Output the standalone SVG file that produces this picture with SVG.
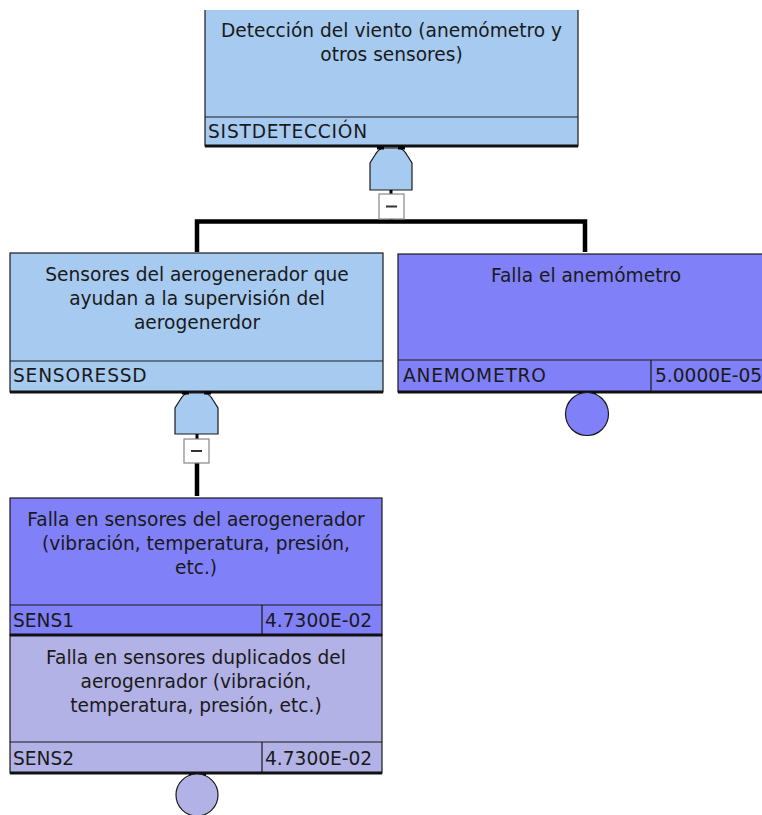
<svg xmlns="http://www.w3.org/2000/svg" width="762" height="815" viewBox="0 0 762 815">
<style>
text{font-family:"DejaVu Sans","Verdana",sans-serif;font-size:18.6px;fill:#1a1a1a}
.k{letter-spacing:0.8px}
.c{text-anchor:middle}
.box{stroke:#1a1a1a;stroke-width:1.2}
.blue{fill:#A6CAF0}
.purple{fill:#8080F8}
.lav{fill:#B2B2E6}
.base{stroke:#111;stroke-width:3;fill:none}
.line{stroke:#1a1a1a;stroke-width:1.2;fill:none}
.wire{stroke:#000;stroke-width:4.5;fill:none}
.mbox{fill:#fff;stroke:#888;stroke-width:1.2}
.minus{stroke:#333;stroke-width:2}
.gate{stroke:#1a1a1a;stroke-width:1.2}
</style>
<rect width="762" height="815" fill="#fff"/>
<g id="connectors">
<line class="wire" x1="391" y1="219" x2="391" y2="222"/>
<path class="wire" d="M197,252 L197,221.5 L585,221.5 L585,252"/>
<line class="wire" x1="197" y1="463" x2="197" y2="496"/>
</g>
<g id="SISTDETECCION">
<path class="box blue" d="M205,10 V146 H578 V10"/>
<line class="line" x1="205" y1="117" x2="578" y2="117"/>
<line class="base" x1="205" y1="146" x2="578" y2="146"/>
<text class="c" x="391.5" y="37">Detección del viento (anemómetro y</text>
<text class="c" x="391.5" y="61">otros sensores)</text>
<text class="k" x="208" y="138">SISTDETECCIÓN</text>
</g>
<g id="gate1">
<path class="gate blue" d="M370,190 V163 L375,155 Q379,148 384,148 H398 Q403,148 407,155 L412,163 V190 Z"/>
<line x1="377" y1="148" x2="384" y2="148" stroke="#000" stroke-width="3"/>
<line x1="398" y1="148" x2="405" y2="148" stroke="#000" stroke-width="3"/>
<line x1="391" y1="190" x2="391" y2="194" stroke="#000" stroke-width="3"/>
<rect class="mbox" x="379" y="194" width="25" height="25"/>
<line class="minus" x1="386" y1="206.5" x2="397" y2="206.5"/>
</g>
<g id="SENSORESSD">
<rect class="box blue" x="10" y="253" width="373" height="139"/>
<line class="line" x1="10" y1="361" x2="383" y2="361"/>
<line class="base" x1="10" y1="392" x2="383" y2="392"/>
<text class="c" x="197" y="281">Sensores del aerogenerador que</text>
<text class="c" x="197" y="305">ayudan a la supervisión del</text>
<text class="c" x="197" y="329">aerogenerdor</text>
<text class="k" x="13" y="382">SENSORESSD</text>
</g>
<g id="gate2">
<path class="gate blue" d="M175,434 V408 L180,400 Q184,393 189,393 H204 Q209,393 213,400 L218,408 V434 Z"/>
<line x1="182" y1="393" x2="189" y2="393" stroke="#000" stroke-width="3"/>
<line x1="204" y1="393" x2="211" y2="393" stroke="#000" stroke-width="3"/>
<line x1="197" y1="434" x2="197" y2="439" stroke="#000" stroke-width="3"/>
<rect class="mbox" x="184" y="439" width="25" height="24"/>
<line class="minus" x1="191" y1="451" x2="202" y2="451"/>
</g>
<g id="ANEMOMETRO">
<rect class="box purple" x="398" y="254" width="380" height="138"/>
<line class="line" x1="398" y1="360" x2="778" y2="360"/>
<line class="line" x1="651" y1="360" x2="651" y2="392"/>
<line class="base" x1="398" y1="392" x2="778" y2="392"/>
<text class="c" x="586" y="282">Falla el anemómetro</text>
<text class="k" x="403" y="382">ANEMOMETRO</text>
<text x="655" y="382">5.0000E-05</text>
<line x1="579" y1="393.5" x2="596" y2="393.5" stroke="#000" stroke-width="2"/>
<circle class="gate purple" cx="587" cy="414" r="21.5"/>
</g>
<g id="SENS1">
<rect class="box purple" x="10" y="498" width="372" height="137"/>
<line class="line" x1="10" y1="605" x2="382" y2="605"/>
<line class="line" x1="262" y1="605" x2="262" y2="635"/>
<text class="c" x="196" y="526">Falla en sensores del aerogenerador</text>
<text class="c" x="196" y="550">(vibración, temperatura, presión,</text>
<text class="c" x="196" y="574">etc.)</text>
<text x="13" y="627">SENS1</text>
<text x="265" y="627">4.7300E-02</text>
</g>
<g id="SENS2">
<rect class="box lav" x="10" y="635" width="372" height="138"/>
<line class="line" x1="10" y1="742" x2="382" y2="742"/>
<line class="line" x1="262" y1="742" x2="262" y2="773"/>
<line class="base" x1="10" y1="635" x2="382" y2="635"/>
<line class="base" x1="10" y1="773" x2="382" y2="773"/>
<text class="c" x="196" y="664">Falla en sensores duplicados del</text>
<text class="c" x="196" y="688">aerogenrador (vibración,</text>
<text class="c" x="196" y="712">temperatura, presión, etc.)</text>
<text x="13" y="765">SENS2</text>
<text x="265" y="765">4.7300E-02</text>
<line x1="189" y1="775" x2="206" y2="775" stroke="#000" stroke-width="2"/>
<circle class="gate lav" cx="197" cy="795" r="21"/>
</g>
</svg>
